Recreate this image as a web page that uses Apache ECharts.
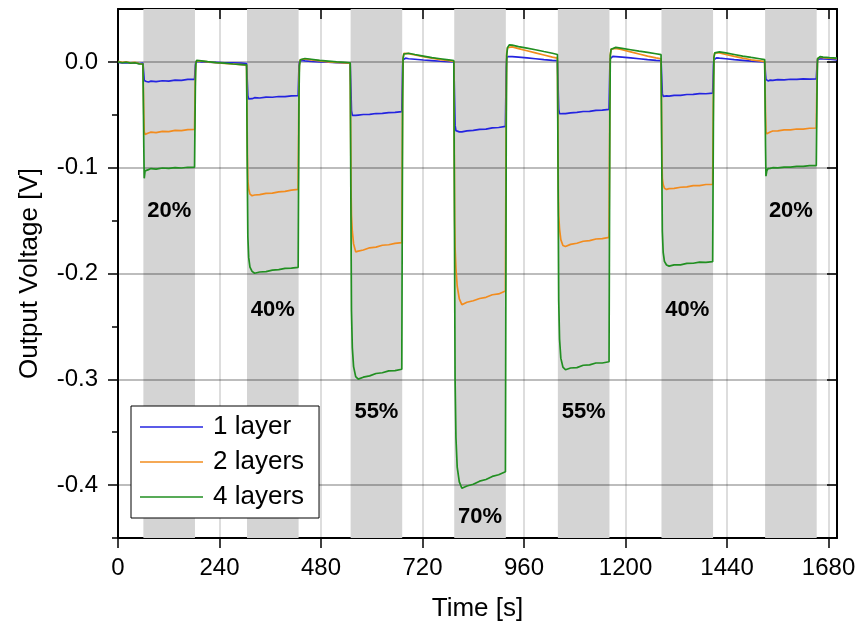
<!DOCTYPE html>
<html>
<head>
<meta charset="utf-8">
<script src="https://cdn.jsdelivr.net/npm/echarts@6/dist/echarts.min.js"></script>
<style>
  html, body { margin: 0; padding: 0; background: #fff; }
  #chart { width: 860px; height: 630px; }
</style>
</head>
<body>
<div id="chart"></div>
<script>
// Sample times [s]
const times = [
  0, 10, 20, 30, 40, 50, 59,
  60, 61, 62, 64, 67, 72, 78, 90, 105, 120, 135, 150, 165, 181,
  183, 184, 186, 190, 197, 212, 232, 252, 272, 292, 304,
  305, 306, 307, 309, 312, 317, 323, 335, 350, 365, 380, 395, 410, 426,
  428, 429, 431, 435, 442, 457, 477, 497, 517, 537, 549,
  550, 551, 552, 554, 557, 562, 568, 580, 595, 610, 625, 640, 655, 671,
  673, 674, 676, 680, 687, 702, 722, 742, 762, 782, 794,
  795, 796, 797, 799, 802, 807, 813, 825, 840, 855, 870, 885, 900, 916,
  918, 919, 921, 925, 932, 947, 967, 987, 1007, 1027, 1039,
  1040, 1041, 1042, 1044, 1047, 1052, 1058, 1070, 1085, 1100, 1115, 1130, 1145, 1161,
  1163, 1164, 1166, 1170, 1177, 1192, 1212, 1232, 1252, 1272, 1284,
  1285, 1286, 1287, 1289, 1292, 1297, 1303, 1315, 1330, 1345, 1360, 1375, 1390, 1406,
  1408, 1409, 1411, 1415, 1422, 1437, 1457, 1477, 1497, 1517, 1529,
  1530, 1531, 1532, 1534, 1537, 1542, 1548, 1560, 1575, 1590, 1605, 1620, 1635, 1651,
  1653, 1654, 1656, 1660, 1667, 1682, 1700
];

// Output voltage [V], 1 layer
const layer1 = [
  -0.0005, -0.001, -0.0008, -0.0012, -0.001, -0.0015, -0.0012,
  -0.0012, -0.012, -0.0175, -0.019, -0.0185, -0.019, -0.0182, -0.0186, -0.0178, -0.0181, -0.0173, -0.0174, -0.0166, -0.0165,
  -0.003, 0.0, 0.0008, 0.0005, 0.0, -0.0002, -0.0005, -0.0008, -0.001, -0.0012, -0.0015,
  -0.0015, -0.022, -0.032, -0.035, -0.0345, -0.0348, -0.0338, -0.0341, -0.0333, -0.0334, -0.0327, -0.0328, -0.0321, -0.032,
  -0.003, 0.0, 0.0012, 0.0015, 0.001, 0.0005, 0.0, -0.0003, -0.0006, -0.001, -0.0012,
  -0.0012, -0.03, -0.046, -0.0505, -0.0512, -0.0506, -0.0503, -0.0497, -0.0496, -0.0488, -0.0487, -0.0479, -0.0477, -0.047,
  -0.004, 0.002, 0.0035, 0.0035, 0.003, 0.0025, 0.0018, 0.0012, 0.0006, 0.0002, 0.0,
  0.0, -0.04, -0.06, -0.065, -0.0665, -0.0661, -0.0662, -0.0652, -0.0648, -0.0638, -0.0636, -0.0624, -0.062, -0.061,
  -0.005, 0.003, 0.005, 0.0055, 0.005, 0.0045, 0.0038, 0.003, 0.0022, 0.0015, 0.0012,
  0.0012, -0.03, -0.045, -0.049, -0.0495, -0.0488, -0.0489, -0.0481, -0.0477, -0.0469, -0.0467, -0.0458, -0.0456, -0.0448,
  -0.004, 0.003, 0.0048, 0.0052, 0.005, 0.0045, 0.0038, 0.003, 0.0022, 0.0015, 0.0012,
  0.0012, -0.02, -0.03, -0.0325, -0.0328, -0.0322, -0.0324, -0.0316, -0.0316, -0.0308, -0.0307, -0.03, -0.0301, -0.0296,
  -0.003, 0.002, 0.0035, 0.0038, 0.0035, 0.003, 0.0022, 0.0015, 0.0008, 0.0003, 0.0,
  0.0, -0.012, -0.0165, -0.0175, -0.018, -0.0172, -0.0174, -0.0168, -0.0169, -0.0164, -0.0166, -0.0161, -0.0163, -0.0161,
  -0.002, 0.002, 0.003, 0.003, 0.0028, 0.0025, 0.002
];

// Output voltage [V], 2 layers
const layer2 = [
  0.0005, -0.0005, 0.0, -0.001, -0.0005, -0.0015, -0.002,
  -0.002, -0.05, -0.066, -0.0685, -0.0675, -0.0672, -0.0664, -0.0668, -0.0657, -0.0659, -0.0648, -0.0649, -0.064, -0.0638,
  -0.01, -0.001, 0.001, 0.0012, 0.0008, 0.0, -0.0008, -0.0015, -0.002, -0.0025, -0.003,
  -0.003, -0.09, -0.112, -0.12, -0.125, -0.1265, -0.1258, -0.1255, -0.1242, -0.124, -0.1228, -0.1224, -0.1212, -0.1205,
  -0.015, -0.002, 0.002, 0.003, 0.0028, 0.002, 0.001, 0.0, -0.0005, -0.001, -0.0012,
  -0.0012, -0.12, -0.145, -0.16, -0.172, -0.1795, -0.1788, -0.1778, -0.1757, -0.1751, -0.1733, -0.1728, -0.1715, -0.1708,
  -0.02, 0.004, 0.008, 0.0085, 0.0078, 0.0065, 0.005, 0.0035, 0.0022, 0.0012, 0.0005,
  0.0005, -0.15, -0.175, -0.195, -0.212, -0.224, -0.2295, -0.2272, -0.2258, -0.2236, -0.2225, -0.2201, -0.2193, -0.2165,
  -0.03, 0.008, 0.0135, 0.0148, 0.0142, 0.0125, 0.0105, 0.0085, 0.0065, 0.0045, 0.0035,
  0.0035, -0.12, -0.145, -0.158, -0.168, -0.1735, -0.1745, -0.1725, -0.1714, -0.1695, -0.1689, -0.1674, -0.167, -0.1658,
  -0.025, 0.007, 0.012, 0.0132, 0.0128, 0.0115, 0.0095, 0.0075, 0.0055, 0.0038, 0.003,
  0.003, -0.09, -0.11, -0.116, -0.1195, -0.1205, -0.1198, -0.1196, -0.1185, -0.1182, -0.117, -0.1169, -0.1159, -0.1157,
  -0.02, 0.005, 0.0085, 0.009, 0.0085, 0.007, 0.0052, 0.0035, 0.002, 0.001, 0.0003,
  0.0003, -0.05, -0.066, -0.068, -0.0665, -0.0662, -0.0653, -0.0652, -0.0643, -0.0642, -0.0634, -0.0635, -0.0627, -0.0625,
  -0.01, 0.003, 0.0045, 0.0045, 0.004, 0.0035, 0.003
];

// Output voltage [V], 4 layers
const layer4 = [
  0.0, -0.0008, -0.0003, -0.0012, -0.0008, -0.0018, -0.002,
  -0.002, -0.08, -0.11, -0.103, -0.1015, -0.1018, -0.1008, -0.1013, -0.1003, -0.1007, -0.0999, -0.1003, -0.0996, -0.0995,
  -0.02, -0.002, 0.0015, 0.0018, 0.001, 0.0002, -0.0006, -0.0012, -0.002, -0.0025, -0.0028,
  -0.003, -0.12, -0.165, -0.185, -0.194, -0.198, -0.1998, -0.1986, -0.1982, -0.1968, -0.1964, -0.1952, -0.195, -0.1942,
  -0.03, -0.004, 0.002, 0.0035, 0.0032, 0.0025, 0.0015, 0.0008, 0.0, -0.0005, -0.0008,
  -0.0008, -0.16, -0.235, -0.27, -0.288, -0.2975, -0.2998, -0.298, -0.2968, -0.2945, -0.2938, -0.2921, -0.2918, -0.2905,
  -0.04, 0.003, 0.0075, 0.0085, 0.0082, 0.007, 0.0055, 0.004, 0.003, 0.002, 0.0012,
  0.0012, -0.2, -0.3, -0.355, -0.383, -0.397, -0.403, -0.4008, -0.3992, -0.3963, -0.3947, -0.3918, -0.3902, -0.3874,
  -0.06, 0.006, 0.0135, 0.016, 0.0158, 0.0145, 0.013, 0.0115, 0.0098, 0.0082, 0.007,
  0.007, -0.15, -0.225, -0.262, -0.28, -0.2885, -0.291, -0.2893, -0.289, -0.2867, -0.2864, -0.2846, -0.2846, -0.2834,
  -0.05, 0.006, 0.012, 0.0138, 0.0137, 0.0128, 0.0115, 0.0102, 0.009, 0.0077, 0.0068,
  0.0068, -0.11, -0.16, -0.18, -0.1885, -0.192, -0.193, -0.1918, -0.1918, -0.1905, -0.1903, -0.1892, -0.1894, -0.1888,
  -0.04, 0.004, 0.0085, 0.0098, 0.0095, 0.0085, 0.007, 0.0055, 0.0042, 0.003, 0.0022,
  0.0022, -0.08, -0.108, -0.103, -0.1008, -0.1007, -0.1, -0.1002, -0.0994, -0.0995, -0.0987, -0.0988, -0.0981, -0.098,
  -0.02, 0.003, 0.0048, 0.005, 0.0045, 0.004, 0.0035
];

// Exposure intervals [s] and their concentrations
const bandStart = [60, 305, 550, 795, 1040, 1285, 1530];
const bandEnd   = [182, 427, 672, 917, 1162, 1407, 1652];
const bandText  = ['20%', '40%', '55%', '70%', '55%', '40%', '20%'];
const bandTextLevel = [-0.141, -0.234, -0.331, -0.43, -0.331, -0.234, -0.141];

// Tick positions
const xMajorTicks = [0, 240, 480, 720, 960, 1200, 1440, 1680];
const xMinorTicks = [120, 360, 600, 840, 1080, 1320, 1560];
const yMajorTicks = [-0.4, -0.3, -0.2, -0.1, 0];
const yMinorTicks = [-0.45, -0.35, -0.25, -0.15, -0.05];

const seriesNames = ['1 layer', '2 layers', '4 layers'];
const seriesColors = ['#2424e0', '#f28c1e', '#218f21'];
const seriesValues = [layer1, layer2, layer4];

const FONT = '"Liberation Sans", Arial, Helvetica, sans-serif';
const X_MIN = 0, X_MAX = 1700, Y_MIN = -0.45, Y_MAX = 0.05;
const black = '#000';

function xAxisDef(opts) {
  return Object.assign({
    type: 'value', min: X_MIN, max: X_MAX, gridIndex: 0,
    axisLine: { show: false },
    axisLabel: { show: false },
    splitLine: { show: false },
    axisTick: { show: false }
  }, opts);
}
function yAxisDef(opts) {
  return Object.assign({
    type: 'value', min: Y_MIN, max: Y_MAX, gridIndex: 0,
    axisLine: { show: false },
    axisLabel: { show: false },
    splitLine: { show: false },
    axisTick: { show: false }
  }, opts);
}

const chart = echarts.init(document.getElementById('chart'), null, { renderer: 'canvas' });

const option = {
  animation: false,
  backgroundColor: '#fff',
  textStyle: { fontFamily: FONT },
  grid: { left: 118, right: 23, top: 9, bottom: 92, containLabel: false },
  legend: {
    data: seriesNames,
    icon: 'rect',
    orient: 'vertical',
    left: 131, top: 406,
    padding: [7, 15, 7, 9],
    itemWidth: 63, itemHeight: 1.5, itemGap: 7,
    backgroundColor: '#fff',
    borderColor: '#000', borderWidth: 1,
    textStyle: { fontFamily: FONT, fontSize: 26, lineHeight: 28, color: '#000', padding: [0, 0, 0, 5] }
  },
  xAxis: [
    // bottom, labelled
    xAxisDef({
      position: 'bottom', interval: 240,
      name: 'Time [s]', nameLocation: 'middle', nameGap: 58,
      nameTextStyle: { fontFamily: FONT, fontSize: 26, color: black },
      axisLine: { show: true, onZero: false, lineStyle: { color: black, width: 2 } },
      axisTick: { show: true, inside: false, length: 10, customValues: xMajorTicks, lineStyle: { color: black, width: 1.5 } },
      axisLabel: { show: true, margin: 18, customValues: xMajorTicks, fontFamily: FONT, fontSize: 24, color: black,
        formatter: v => (v % 240 === 0 ? String(v) : '') },
      splitLine: { show: true, lineStyle: { color: '#d2d2d2', width: 1.5 } }
    }),
    // bottom, minor ticks
    xAxisDef({
      position: 'bottom', interval: 120,
      axisTick: { show: true, inside: false, length: 5, customValues: xMinorTicks, lineStyle: { color: black, width: 1.5 } }
    }),
    // top frame, major ticks
    xAxisDef({
      position: 'top', interval: 240,
      axisLine: { show: true, onZero: false, lineStyle: { color: black, width: 2 } },
      axisTick: { show: true, inside: true, length: 10, customValues: xMajorTicks, lineStyle: { color: black, width: 1.5 } }
    }),
    // top frame, minor ticks
    xAxisDef({
      position: 'top', interval: 120,
      axisTick: { show: true, inside: true, length: 5, customValues: xMinorTicks, lineStyle: { color: black, width: 1.5 } }
    })
  ],
  yAxis: [
    // left, labelled
    yAxisDef({
      position: 'left', z: 3,
      name: 'Output Voltage [V]', nameLocation: 'middle', nameGap: 75,
      nameTextStyle: { fontFamily: FONT, fontSize: 26, color: black },
      axisLine: { show: true, onZero: false, lineStyle: { color: black, width: 2 } },
      axisTick: { show: true, inside: false, length: 10, customValues: yMajorTicks, lineStyle: { color: black, width: 1.5 } },
      axisLabel: { show: true, margin: 20, customValues: yMajorTicks, fontFamily: FONT, fontSize: 24, color: black,
        formatter: v => (Math.abs(v * 10 - Math.round(v * 10)) < 1e-6 ? v.toFixed(1) : '') },
      splitLine: { show: true, lineStyle: { color: 'rgba(0,0,0,0.35)', width: 1.5 } }
    }),
    // left, minor ticks
    yAxisDef({
      position: 'left', interval: 0.05,
      axisTick: { show: true, inside: false, length: 6, customValues: yMinorTicks, lineStyle: { color: black, width: 1.5 } }
    }),
    // right frame, major ticks
    yAxisDef({
      position: 'right',
      axisLine: { show: true, onZero: false, lineStyle: { color: black, width: 2 } },
      axisTick: { show: true, inside: true, length: 10, customValues: yMajorTicks, lineStyle: { color: black, width: 1.5 } }
    }),
    // right frame, minor ticks
    yAxisDef({
      position: 'right', interval: 0.05,
      axisTick: { show: true, inside: true, length: 6, customValues: yMinorTicks, lineStyle: { color: black, width: 1.5 } }
    })
  ],
  series: [
    // shaded exposure intervals
    {
      type: 'line', xAxisIndex: 0, yAxisIndex: 0, data: [], z: 1, silent: true,
      markArea: {
        silent: true,
        itemStyle: { color: '#d4d4d4' },
        data: bandStart.map((s, i) => [{ xAxis: s }, { xAxis: bandEnd[i] }])
      }
    },
    ...seriesValues.map((vals, k) => ({
      name: seriesNames[k],
      type: 'line', xAxisIndex: 0, yAxisIndex: 0, z: 5,
      symbol: 'none', showSymbol: false, sampling: null, silent: true,
      color: seriesColors[k],
      itemStyle: { color: seriesColors[k] },
      lineStyle: { color: seriesColors[k], width: 1.7 },
      data: times.map((t, i) => [t, vals[i]])
    })),
    // concentration labels under each interval
    {
      type: 'scatter', xAxisIndex: 0, yAxisIndex: 0, z: 6, silent: true,
      symbolSize: 1, itemStyle: { color: 'rgba(0,0,0,0)', opacity: 1 },
      data: bandStart.map((s, i) => [(s + bandEnd[i]) / 2, bandTextLevel[i], bandText[i]]),
      label: {
        show: true, position: 'inside', opacity: 1,
        formatter: p => p.value[2],
        fontFamily: FONT, fontWeight: 'bold', fontSize: 22, color: '#000',
        textBorderWidth: 0
      }
    }
  ]
};

chart.setOption(option);
</script>
</body>
</html>
